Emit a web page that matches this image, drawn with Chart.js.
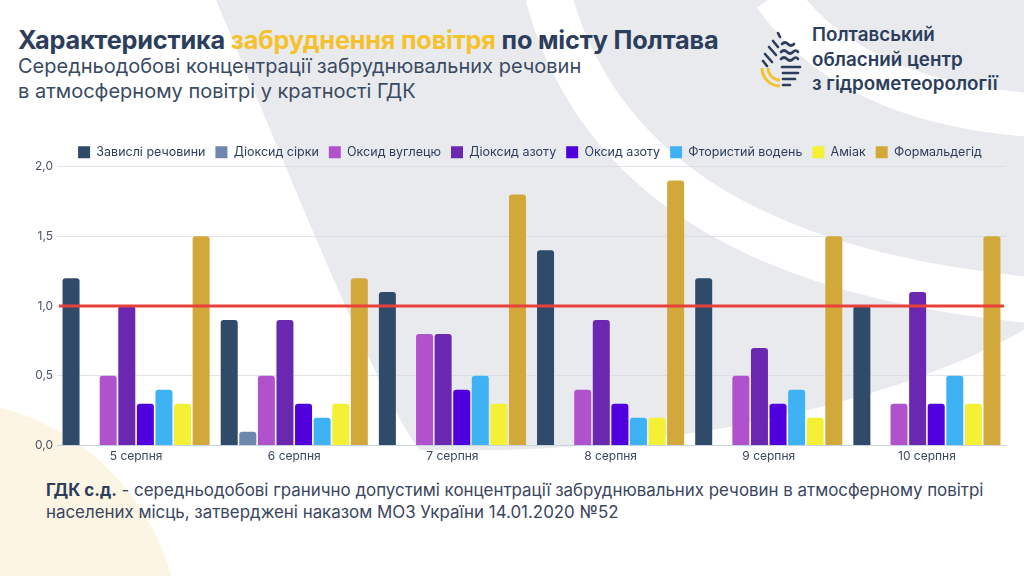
<!DOCTYPE html>
<html lang="uk">
<head>
<meta charset="utf-8">
<title>Характеристика забруднення повітря по місту Полтава</title>
<script src="https://cdn.jsdelivr.net/npm/chart.js@4.4.1/dist/chart.umd.min.js"></script>
<style>
    html, body { margin: 0; padding: 0; }
    body {
        width: 1024px; height: 576px; position: relative; overflow: hidden;
        background: #ffffff; font-family: Inter, "Noto Sans", sans-serif; color: #2c3e5c;
    }
    #bg { position: absolute; left: 0; top: 0; }
    .title { position: absolute; left: 18px; top: 24px; font-size: 25.3px; font-weight: 700; white-space: nowrap; letter-spacing: -0.2px; }
    .title .hl { color: #f5c22e; }
    .subtitle { position: absolute; left: 18px; top: 54px; font-size: 20px; line-height: 24.5px; color: #3a4a63; white-space: nowrap; }
    .org { position: absolute; left: 812px; top: 23px; font-size: 18.8px; line-height: 24.5px; font-weight: 600; color: #2c3e5c; white-space: nowrap; }
    #logo { position: absolute; left: 756px; top: 28px; }
    .note { position: absolute; left: 46px; top: 479px; font-size: 16.9px; line-height: 22px; color: #3a4560; white-space: nowrap; }
    .note b { color: #2c3e5c; }
    #wrap { position: absolute; left: 0; top: 136px; width: 1024px; height: 332px; }
</style>
</head>
<body>
<svg id="bg" width="1024" height="576">
    <circle cx="-60" cy="640" r="240" fill="#fdf5e3"/>
    <path d="M216 0 L1024 0 L1024 330 C900 400 700 445 500 450 L420 450 C380 400 300 200 216 0 Z" fill="#e9eaee"/>
    <path d="M548 -5 C590 150 720 270 1030 300" stroke="#ffffff" stroke-width="46" fill="none"/>
    <path d="M775 -5 C820 60 900 105 1030 115" stroke="#ffffff" stroke-width="44" fill="none"/>
</svg>

<div class="title">Характеристика <span class="hl">забруднення повітря</span> по місту Полтава</div>
<div class="subtitle">Середньодобові концентрації забруднювальних речовин<br>в атмосферному повітрі у кратності ГДК</div>

<svg id="logo" width="48" height="60">
    <g stroke="#2c3e5c" stroke-width="2.6" stroke-linecap="round" fill="none">
        <path d="M22 5 L24 9"/>
        <path d="M17 13 L22 19"/>
        <path d="M13 19 L20 27"/>
        <path d="M9 26 L16 34"/>
        <path d="M7 33 L11 38"/>
        <path d="M26 16 q3 -3 6 0 t6 0"/>
        <path d="M25 24 q3 -3 6 0 t6 0 t5 0"/>
        <path d="M25 31 q3 -3 6 0 t6 0 t5 0"/>
        <path d="M26 39 L44 39"/>
        <path d="M27 45 L42 45"/>
        <path d="M27 51 L39 51"/>
        <path d="M27 57 L34 57"/>
    </g>
    <g stroke="#f5c22e" stroke-width="3" fill="none">
        <path d="M6 40 A18 18 0 0 0 24 58"/>
        <path d="M12 40 A12 12 0 0 0 24 52"/>
    </g>
</svg>
<div class="org">Полтавський<br>обласний центр<br>з гідрометеорології</div>

<div id="wrap"><canvas id="chart"></canvas></div>

<div class="note"><b>ГДК с.д.</b> - середньодобові гранично допустимі концентрації забруднювальних речовин в атмосферному повітрі<br>населених місць, затверджені наказом МОЗ України 14.01.2020 №52</div>

<script>
// дати спостережень
const categories = ['5 серпня', '6 серпня', '7 серпня', '8 серпня', '9 серпня', '10 серпня'];

// кратність ГДК по кожній речовині
const zavisli = [1.2, 0.9, 1.1, 1.4, 1.2, 1.0];
const dioksydSirky = [0, 0.1, 0, 0, 0, 0];
const oksydVuhletsiu = [0.5, 0.5, 0.8, 0.4, 0.5, 0.3];
const dioksydAzotu = [1.0, 0.9, 0.8, 0.9, 0.7, 1.1];
const oksydAzotu = [0.3, 0.3, 0.4, 0.3, 0.3, 0.3];
const ftorystyiVoden = [0.4, 0.2, 0.5, 0.2, 0.4, 0.5];
const amiak = [0.3, 0.3, 0.3, 0.2, 0.2, 0.3];
const formaldehid = [1.5, 1.2, 1.8, 1.9, 1.5, 1.5];

const seriesNames = ['Завислі речовини', 'Діоксид сірки', 'Оксид вуглецю', 'Діоксид азоту', 'Оксид азоту', 'Фтористий водень', 'Аміак', 'Формальдегід'];
const seriesValues = [zavisli, dioksydSirky, oksydVuhletsiu, dioksydAzotu, oksydAzotu, ftorystyiVoden, amiak, formaldehid];
const seriesColors = ['#304a6a', '#6d88ac', '#b052cc', '#6a28b0', '#5000dc', '#3fb2f3', '#f4f035', '#d2a83a'];

// шкала і лінія ГДК
const yTicks = [0, 0.5, 1.0, 1.5, 2.0];
const limitValue = 1.0;

document.addEventListener('DOMContentLoaded', function() {
    // лінія ГДК
    const limitLine = {
        id: 'limitLine',
        afterDatasetsDraw(chart) {
            const { ctx, chartArea, scales } = chart;
            const y = scales.y.getPixelForValue(limitValue);
            ctx.save();
            ctx.strokeStyle = '#e8403a';
            ctx.lineWidth = 3;
            ctx.beginPath();
            ctx.moveTo(chartArea.left + 2, y);
            ctx.lineTo(chartArea.right - 2, y);
            ctx.stroke();
            ctx.restore();
        }
    };

    // менший відступ під легендою і зсув легенди над областю графіка
    const legendTweak = {
        id: 'legendTweak',
        beforeInit(chart) {
            const origFit = chart.legend.fit;
            chart.legend.fit = function() {
                origFit.bind(chart.legend)();
                this.height -= 2;
            };
        },
        afterLayout(chart) {
            chart.legend.left += 22;
            chart.legend.right += 22;
            chart.legend.adjustHitBoxes();
        }
    };

    const ctx = document.getElementById('chart').getContext('2d');
    new Chart(ctx, {
        type: 'bar',
        data: {
            labels: categories,
            datasets: seriesNames.map((name, i) => ({
                label: name,
                data: seriesValues[i],
                backgroundColor: seriesColors[i],
                borderRadius: 3,
                borderSkipped: 'bottom',
                categoryPercentage: 0.94,
                barPercentage: 0.915
            }))
        },
        options: {
            responsive: true,
            maintainAspectRatio: false,
            animation: false,
            layout: { padding: { left: 10, right: 18, top: 0, bottom: 0 } },
            plugins: {
                legend: {
                    position: 'top',
                    labels: {
                        boxWidth: 12,
                        boxHeight: 12,
                        padding: 10,
                        color: '#2c3e5c',
                        font: { family: 'Inter', size: 12.5 }
                    }
                },
                tooltip: { enabled: false }
            },
            scales: {
                x: {
                    grid: { display: false, drawTicks: false },
                    border: { display: false },
                    ticks: { color: '#3a4560', font: { family: 'Inter', size: 12 }, padding: 4 }
                },
                y: {
                    min: 0,
                    max: 2,
                    afterBuildTicks(axis) {
                        axis.ticks = yTicks.map(v => ({ value: v }));
                    },
                    afterFit(axis) { axis.width = 47; },
                    ticks: {
                        color: '#4a5466',
                        font: { family: 'Inter', size: 12 },
                        padding: 4,
                        callback: v => v.toFixed(1).replace('.', ',')
                    },
                    grid: {
                        drawTicks: false,
                        color: c => c.tick && c.tick.value === 0 ? '#c8d3e2' : 'rgba(214,217,226,0.7)'
                    },
                    border: { display: false }
                }
            }
        },
        plugins: [limitLine, legendTweak]
    });
});
</script>
</body>
</html>
